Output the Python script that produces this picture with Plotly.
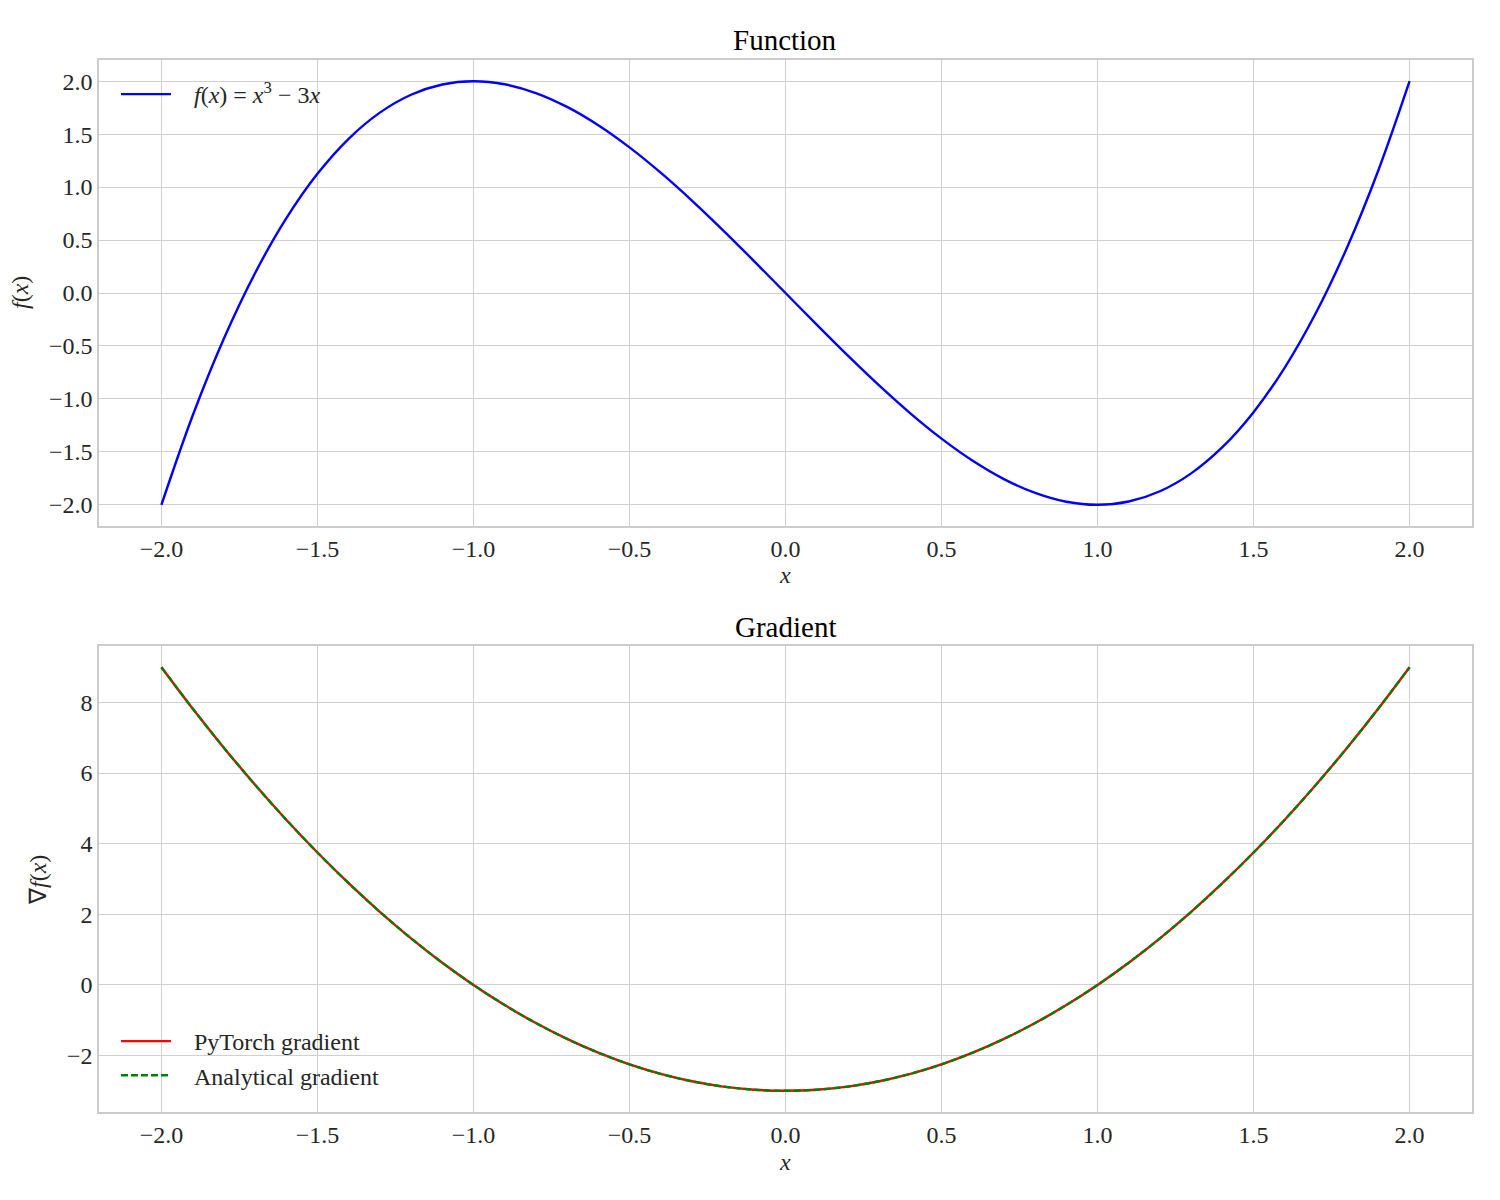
import plotly.graph_objects as go

# x samples
x_vals = [-2.0, -1.9, -1.8, -1.7, -1.6, -1.5, -1.4, -1.3, -1.2, -1.1, -1.0,
          -0.9, -0.8, -0.7, -0.6, -0.5, -0.4, -0.3, -0.2, -0.1, 0.0,
          0.1, 0.2, 0.3, 0.4, 0.5, 0.6, 0.7, 0.8, 0.9, 1.0,
          1.1, 1.2, 1.3, 1.4, 1.5, 1.6, 1.7, 1.8, 1.9, 2.0]

# f(x) values
f_vals = [-2.0, -1.159, -0.432, 0.187, 0.704, 1.125, 1.456, 1.703, 1.872, 1.969, 2.0,
          1.971, 1.888, 1.757, 1.584, 1.375, 1.136, 0.873, 0.592, 0.299, 0.0,
          -0.299, -0.592, -0.873, -1.136, -1.375, -1.584, -1.757, -1.888, -1.971, -2.0,
          -1.969, -1.872, -1.703, -1.456, -1.125, -0.704, -0.187, 0.432, 1.159, 2.0]

# gradient values
grad_torch = [9.0, 7.83, 6.72, 5.67, 4.68, 3.75, 2.88, 2.07, 1.32, 0.63, 0.0,
              -0.57, -1.08, -1.53, -1.92, -2.25, -2.52, -2.73, -2.88, -2.97, -3.0,
              -2.97, -2.88, -2.73, -2.52, -2.25, -1.92, -1.53, -1.08, -0.57, 0.0,
              0.63, 1.32, 2.07, 2.88, 3.75, 4.68, 5.67, 6.72, 7.83, 9.0]
grad_analytic = list(grad_torch)

x_ticks = [-2.0, -1.5, -1.0, -0.5, 0.0, 0.5, 1.0, 1.5, 2.0]
f_ticks = [-2.0, -1.5, -1.0, -0.5, 0.0, 0.5, 1.0, 1.5, 2.0]
g_ticks = [-2, 0, 2, 4, 6, 8]

FONT = "Liberation Serif"
GRID = "#d0d0d0"
TXT = "#262626"
W, H = 1500, 1200
OFF = 8  # page margin compensation (px)


def px_x(p):
    return (p - OFF) / W


def px_y(p):
    return 1 - (p - OFF) / H


NB = "\u00a0\u00a0\u00a0"

fig = go.Figure()
fig.add_trace(go.Scatter(x=x_vals, y=f_vals, mode="lines", line=dict(color="blue", width=2.4, shape="spline"),
                         name=NB + "<i>f</i>(<i>x</i>) = <i>x</i><sup>3</sup> − 3<i>x</i>",
                         xaxis="x", yaxis="y", legend="legend"))
fig.add_trace(go.Scatter(x=x_vals, y=grad_torch, mode="lines", line=dict(color="red", width=2.4, shape="spline"),
                         name=NB + "PyTorch gradient", xaxis="x2", yaxis="y2", legend="legend2"))
fig.add_trace(go.Scatter(x=x_vals, y=grad_analytic, mode="lines",
                         line=dict(color="green", width=2.4, dash="7px,3px", shape="spline"),
                         name=NB + "Analytical gradient", xaxis="x2", yaxis="y2", legend="legend2"))

axis_common = dict(showgrid=True, gridcolor=GRID, gridwidth=1.2, zeroline=False,
                   showline=True, linecolor="#cccccc", linewidth=1.5, mirror=True,
                   ticks="", tickfont=dict(family=FONT, size=24, color=TXT))

top_dom = [px_y(526), px_y(60)]
bot_dom = [px_y(1112), px_y(646)]
x_dom = [px_x(99), px_x(1472)]

fig.update_layout(
    width=W, height=H,
    margin=dict(l=0, r=0, t=0, b=0),
    paper_bgcolor="white", plot_bgcolor="white",
    xaxis=dict(domain=x_dom, anchor="y", range=[-2.2, 2.2], tickvals=x_ticks, tickformat=".1f", **axis_common),
    yaxis=dict(domain=top_dom, anchor="x", range=[-2.2, 2.2], tickvals=f_ticks, tickformat=".1f", **axis_common),
    xaxis2=dict(domain=x_dom, anchor="y2", range=[-2.2, 2.2], tickvals=x_ticks, tickformat=".1f", **axis_common),
    yaxis2=dict(domain=bot_dom, anchor="x2", range=[-3.6, 9.6], tickvals=g_ticks, tickformat="d", **axis_common),
    legend=dict(x=px_x(116), y=px_y(72), xanchor="left", yanchor="top", bgcolor="rgba(0,0,0,0)",
                font=dict(family=FONT, size=24, color=TXT), itemwidth=50),
    legend2=dict(x=px_x(116), y=px_y(1098), xanchor="left", yanchor="bottom", bgcolor="rgba(0,0,0,0)",
                 font=dict(family=FONT, size=24, color=TXT), itemwidth=50, tracegroupgap=0),
    showlegend=True,
)

ann_font = dict(family=FONT, size=24, color=TXT)
title_font = dict(family=FONT, size=29, color="black")
xc = px_x(785)
annotations = [
    dict(text="Function", x=xc, y=px_y(40), xref="paper", yref="paper", showarrow=False,
         xanchor="center", yanchor="middle", font=title_font),
    dict(text="Gradient", x=xc, y=px_y(627), xref="paper", yref="paper", showarrow=False,
         xanchor="center", yanchor="middle", font=title_font),
    dict(text="<i>x</i>", x=xc, y=px_y(575), xref="paper", yref="paper", showarrow=False,
         xanchor="center", yanchor="middle", font=ann_font),
    dict(text="<i>x</i>", x=xc, y=px_y(1162), xref="paper", yref="paper", showarrow=False,
         xanchor="center", yanchor="middle", font=ann_font),
    dict(text="<i>f</i>(<i>x</i>)", x=px_x(20), y=px_y(293), xref="paper", yref="paper",
         showarrow=False, textangle=-90, xanchor="center", yanchor="middle", font=ann_font),
    dict(text="∇<i>f</i>(<i>x</i>)", x=px_x(38), y=px_y(880), xref="paper", yref="paper",
         showarrow=False, textangle=-90, xanchor="center", yanchor="middle", font=ann_font),
]
fig.update_layout(annotations=annotations)

fig.write_html("out.html")
